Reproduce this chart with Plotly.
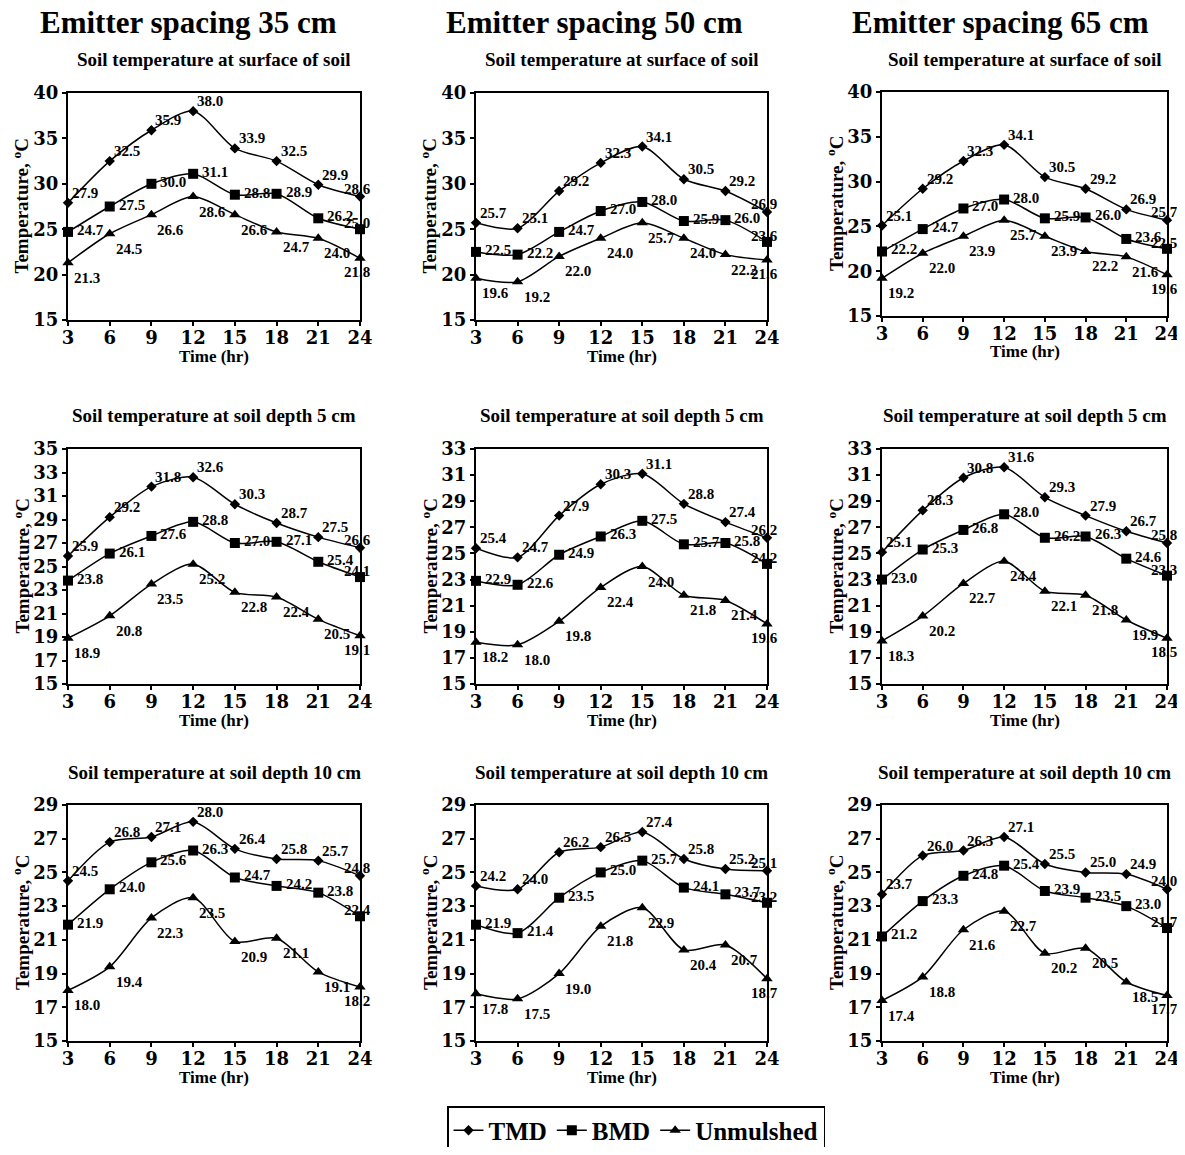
import plotly.graph_objects as go

# ---------------- data ----------------
hours = [3, 6, 9, 12, 15, 18, 21, 24]
spacing_titles = ["Emitter spacing 35 cm", "Emitter spacing 50 cm", "Emitter spacing 65 cm"]
depth_titles = ["Soil temperature at surface of soil",
                "Soil temperature at soil depth 5 cm",
                "Soil temperature at soil depth 10 cm"]
series_names = ["TMD", "BMD", "Unmulshed"]
y_title = "Temperature, <sup>o</sup>C"
x_title = "Time (hr)"

# Emitter spacing 35 cm
tmd_35_surface = [27.9, 32.5, 35.9, 38.0, 33.9, 32.5, 29.9, 28.6]
bmd_35_surface = [24.7, 27.5, 30.0, 31.1, 28.8, 28.9, 26.2, 25.0]
unm_35_surface = [21.3, 24.5, 26.6, 28.6, 26.6, 24.7, 24.0, 21.8]
tmd_35_d5 = [25.9, 29.2, 31.8, 32.6, 30.3, 28.7, 27.5, 26.6]
bmd_35_d5 = [23.8, 26.1, 27.6, 28.8, 27.0, 27.1, 25.4, 24.1]
unm_35_d5 = [18.9, 20.8, 23.5, 25.2, 22.8, 22.4, 20.5, 19.1]
tmd_35_d10 = [24.5, 26.8, 27.1, 28.0, 26.4, 25.8, 25.7, 24.8]
bmd_35_d10 = [21.9, 24.0, 25.6, 26.3, 24.7, 24.2, 23.8, 22.4]
unm_35_d10 = [18.0, 19.4, 22.3, 23.5, 20.9, 21.1, 19.1, 18.2]

# Emitter spacing 50 cm
tmd_50_surface = [25.7, 25.1, 29.2, 32.3, 34.1, 30.5, 29.2, 26.9]
bmd_50_surface = [22.5, 22.2, 24.7, 27.0, 28.0, 25.9, 26.0, 23.6]
unm_50_surface = [19.6, 19.2, 22.0, 24.0, 25.7, 24.0, 22.2, 21.6]
tmd_50_d5 = [25.4, 24.7, 27.9, 30.3, 31.1, 28.8, 27.4, 26.2]
bmd_50_d5 = [22.9, 22.6, 24.9, 26.3, 27.5, 25.7, 25.8, 24.2]
unm_50_d5 = [18.2, 18.0, 19.8, 22.4, 24.0, 21.8, 21.4, 19.6]
tmd_50_d10 = [24.2, 24.0, 26.2, 26.5, 27.4, 25.8, 25.2, 25.1]
bmd_50_d10 = [21.9, 21.4, 23.5, 25.0, 25.7, 24.1, 23.7, 23.2]
unm_50_d10 = [17.8, 17.5, 19.0, 21.8, 22.9, 20.4, 20.7, 18.7]

# Emitter spacing 65 cm
tmd_65_surface = [25.1, 29.2, 32.3, 34.1, 30.5, 29.2, 26.9, 25.7]
bmd_65_surface = [22.2, 24.7, 27.0, 28.0, 25.9, 26.0, 23.6, 22.5]
unm_65_surface = [19.2, 22.0, 23.9, 25.7, 23.9, 22.2, 21.6, 19.6]
tmd_65_d5 = [25.1, 28.3, 30.8, 31.6, 29.3, 27.9, 26.7, 25.8]
bmd_65_d5 = [23.0, 25.3, 26.8, 28.0, 26.2, 26.3, 24.6, 23.3]
unm_65_d5 = [18.3, 20.2, 22.7, 24.4, 22.1, 21.8, 19.9, 18.5]
tmd_65_d10 = [23.7, 26.0, 26.3, 27.1, 25.5, 25.0, 24.9, 24.0]
bmd_65_d10 = [21.2, 23.3, 24.8, 25.4, 23.9, 23.5, 23.0, 21.7]
unm_65_d10 = [17.4, 18.8, 21.6, 22.7, 20.2, 20.5, 18.5, 17.7]

# y-axis ranges (min, max, step) per row/column
y_axis_row1 = (15, 40, 5)
y_axis_row2_col1 = (15, 35, 2)
y_axis_row2_other = (15, 33, 2)
y_axis_row3 = (15, 29, 2)

panels = [
    [(tmd_35_surface, bmd_35_surface, unm_35_surface),
     (tmd_50_surface, bmd_50_surface, unm_50_surface),
     (tmd_65_surface, bmd_65_surface, unm_65_surface)],
    [(tmd_35_d5, bmd_35_d5, unm_35_d5),
     (tmd_50_d5, bmd_50_d5, unm_50_d5),
     (tmd_65_d5, bmd_65_d5, unm_65_d5)],
    [(tmd_35_d10, bmd_35_d10, unm_35_d10),
     (tmd_50_d10, bmd_50_d10, unm_50_d10),
     (tmd_65_d10, bmd_65_d10, unm_65_d10)],
]
y_axes = [
    [y_axis_row1, y_axis_row1, y_axis_row1],
    [y_axis_row2_col1, y_axis_row2_other, y_axis_row2_other],
    [y_axis_row3, y_axis_row3, y_axis_row3],
]

# ---------------- layout constants ----------------
# the page body has an 8px margin: the figure is placed at (8, 8) on the page
OFF = 8
W, H = 1185 - 2 * OFF, 1155 - 2 * OFF
FONT = "Liberation Serif"
TICKFONT = "DejaVu Serif"
col_px = [(68, 360), (476, 767), (882, 1167)]
row_px = [(93, 320), (449, 684), (805, 1041)]
row_px_override = {(0, 2): (92, 316)}
marker_symbols = ["diamond", "square", "triangle-up"]
marker_sizes = [8, 10, 10]
label_dx = [2, 7, 4]
label_dy = [10, 2, -15]
label_dy_last = [8, 6, -14]


def fx(px):
    return (px - OFF) / W


def fy(py):
    return 1 - (py - OFF) / H


fig = go.Figure()

for r in range(3):
    for c in range(3):
        k = r * 3 + c + 1
        xa = "x" if k == 1 else f"x{k}"
        ya = "y" if k == 1 else f"y{k}"
        for s, (name, vals) in enumerate(zip(series_names, panels[r][c])):
            fig.add_trace(go.Scatter(
                x=hours, y=vals, mode="lines+markers", name=name,
                line=dict(color="black", width=1.5, shape="spline", smoothing=0.8),
                marker=dict(symbol=marker_symbols[s], size=marker_sizes[s], color="black"),
                xaxis=xa, yaxis=ya, showlegend=(k == 1), cliponaxis=False))
            for h, v in zip(hours, vals):
                last = h == hours[-1]
                fig.add_annotation(
                    x=h, y=v, xref=xa, yref=ya, text=f"<b>{v:.1f}</b>", showarrow=False,
                    xanchor="center" if last else "left", yanchor="middle",
                    xshift=-3 if last else label_dx[s],
                    yshift=label_dy_last[s] if last else label_dy[s],
                    font=dict(size=15, family=FONT, color="black"))

        x0, x1 = col_px[c]
        y0, y1 = row_px_override.get((r, c), row_px[r])
        ymin, ymax, ystep = y_axes[r][c]
        axis_common = dict(showline=True, mirror=True, linecolor="black", linewidth=2,
                           showgrid=False, zeroline=False, ticks="outside", ticklen=4,
                           tickcolor="black", tickwidth=1.5, automargin=False,
                           ticklabeloverflow="allow",
                           tickfont=dict(size=18, family=TICKFONT, color="black", weight="bold"))
        fig.layout["xaxis" + ("" if k == 1 else str(k))] = dict(
            domain=[fx(x0), fx(x1)], anchor=ya, range=[3, 24], tickvals=hours,
            ticklabelstandoff=-4, **axis_common)
        fig.layout["yaxis" + ("" if k == 1 else str(k))] = dict(
            domain=[fy(y1), fy(y0)], anchor=xa, range=[ymin, ymax],
            tick0=ymin, dtick=ystep, **axis_common)

        xc = (x0 + x1) / 2
        # panel subtitle
        fig.add_annotation(x=fx(xc), y=fy(row_px[r][0] - 33), xref="paper", yref="paper",
                           text=f"<b>{depth_titles[r]}</b>", showarrow=False,
                           xanchor="center", yanchor="middle",
                           font=dict(size=19, family=FONT, color="black"))
        # x title
        fig.add_annotation(x=fx(xc), y=fy(y1 + 36), xref="paper", yref="paper",
                           text=f"<b>{x_title}</b>", showarrow=False,
                           xanchor="center", yanchor="middle",
                           font=dict(size=17, family=FONT, color="black"))
        # y title
        fig.add_annotation(x=fx(x0 - 47), y=fy((y0 + y1) / 2), xref="paper", yref="paper",
                           text=f"<b>{y_title}</b>", showarrow=False, textangle=-90,
                           xanchor="center", yanchor="middle",
                           font=dict(size=19, family=FONT, color="black"))

header_centers = [188, 594, 1000]
for t, xcp in zip(spacing_titles, header_centers):
    fig.add_annotation(x=fx(xcp), y=fy(22), xref="paper", yref="paper",
                       text=f"<b>{t}</b>", showarrow=False, xanchor="center", yanchor="middle",
                       font=dict(size=31, family=FONT, color="black"))

fig.update_layout(
    width=W, height=H, autosize=False,
    margin=dict(l=0, r=0, t=0, b=0, autoexpand=False),
    paper_bgcolor="white", plot_bgcolor="white",
    font=dict(family=FONT, color="black"),
    showlegend=True,
    legend=dict(orientation="h", x=fx(636), xanchor="center",
                y=fy(1106), yanchor="top",
                bordercolor="black", borderwidth=1.5, bgcolor="white",
                font=dict(size=25, family=FONT, color="black", weight="bold"),
                itemwidth=30, tracegroupgap=0),
)

fig.write_html("out.html")
